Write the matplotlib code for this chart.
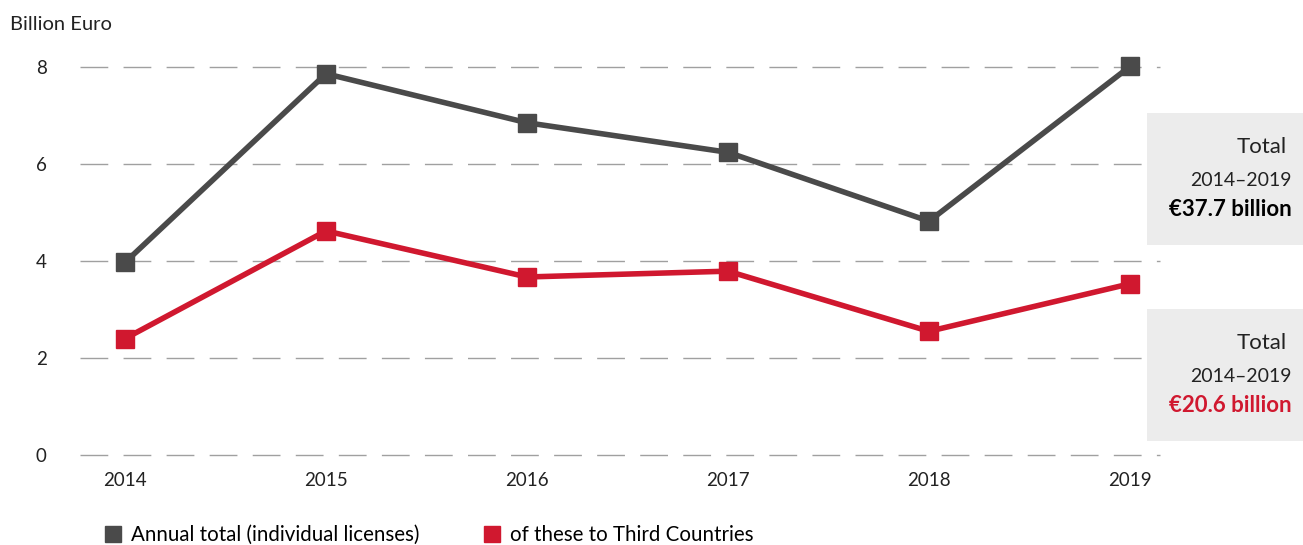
import matplotlib.pyplot as plt
from matplotlib.lines import Line2D
from matplotlib.patches import Rectangle

years = [2014, 2015, 2016, 2017, 2018, 2019]
annual_total = [3.97, 7.86, 6.85, 6.24, 4.82, 8.01]
third_countries = [2.40, 4.62, 3.67, 3.79, 2.55, 3.53]
y_ticks = [0, 2, 4, 6, 8]
series_names = ['Annual total (individual licenses)', 'of these to Third Countries']
box_texts = [('Total', '2014–2019', '€37.7 billion'), ('Total', '2014–2019', '€20.6 billion')]

GREY = '#4a4a4a'
RED = '#d0182f'
plt.rcParams['font.family'] = ['Lato', 'DejaVu Sans']

W, H = 1303, 545
fig = plt.figure(figsize=(W / 100, H / 100), dpi=100)
# axes placed in pixels: x from 80 to 1160, y from 455 (0) upwards
ax = fig.add_axes([80 / W, (H - 455) / H, 1080 / W, (455 - 52.4) / H])
ax.set_xlim(2014 - 45 / 201, 2019 + 30 / 201)
ax.set_ylim(0, 8.3)

for t in y_ticks:
    ax.axhline(t, color='#a0a0a0', lw=1, dashes=(20, 11), zorder=0, clip_on=False)

ax.plot(years, annual_total, color=GREY, lw=4, marker='s', ms=13, clip_on=False, zorder=3)
ax.plot(years, third_countries, color=RED, lw=4, marker='s', ms=13, clip_on=False, zorder=3)

for s in ax.spines.values():
    s.set_visible(False)
ax.set_yticks(y_ticks)
ax.set_yticklabels([str(t) for t in y_ticks], fontsize=13.5, color='#222222')
ax.set_xticks(years)
ax.set_xticklabels([str(y) for y in years], fontsize=13.5, color='#222222')
ax.tick_params(length=0)
ax.tick_params(axis='y', pad=24)
ax.tick_params(axis='x', pad=12)

fig.text(10 / W, 1 - 25 / H, 'Billion Euro', fontsize=14.5, va='center', ha='left', color='#222222')

# summary boxes on the right
boxes = [(113, 245, 'black'), (309, 441, RED)]
for (top, bottom, col), (l1, l2, l3) in zip(boxes, box_texts):
    fig.patches.append(Rectangle((1147 / W, 1 - bottom / H), (W - 1147) / W, (bottom - top) / H,
                                 transform=fig.transFigure, facecolor='#ececec', edgecolor='none', zorder=5))
    fig.text(1287 / W, 1 - (top + 34) / H, l1, fontsize=16, ha='right', va='center', color='#222222', zorder=6)
    fig.text(1292 / W, 1 - (top + 67) / H, l2, fontsize=14, ha='right', va='center', color='#222222', zorder=6)
    fig.text(1292 / W, 1 - (top + 96) / H, l3, fontsize=16, ha='right', va='center', color=col,
             fontweight='bold', zorder=6)

handles = [Line2D([], [], color=GREY, marker='s', ls='none', ms=11),
           Line2D([], [], color=RED, marker='s', ls='none', ms=11)]
fig.legend(handles, series_names, loc='center left', bbox_to_anchor=(82 / W, 1 - 535 / H), ncol=2,
           frameon=False, fontsize=14.8, handletextpad=0.3, columnspacing=2.9, handlelength=1.2)

fig.savefig('out.png', dpi=100)
